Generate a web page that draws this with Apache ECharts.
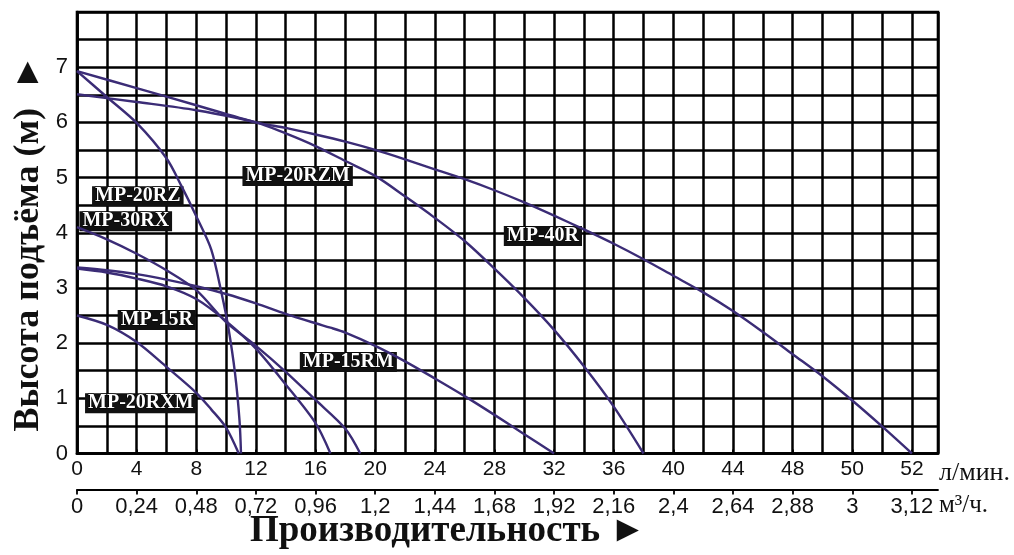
<!DOCTYPE html>
<html><head><meta charset="utf-8">
<script src="https://cdn.jsdelivr.net/npm/echarts@6/dist/echarts.min.js"></script>
<style>html,body{margin:0;padding:0;background:#fff}#c{width:1014px;height:555px}</style>
</head><body><div id="c"></div>
<script>
// Flow positions are in the grid's own linear unit (2 per cell); tick texts give the printed values.
const lpmTickValues = [0,4,8,12,16,20,24,28,32,36,40,44,48,52,56];
const lpmTickText   = ['0','4','8','12','16','20','24','28','32','36','40','44','48','50','52'];
const m3hTickText   = ['0','0,24','0,48','0,72','0,96','1,2','1,44','1,68','1,92','2,16','2,4','2,64','2,88','3','3,12'];
const headTickValues = [0,1,2,3,4,5,6,7];

const mp20rzFlow  = [0,2,4,6,7,8,9,9.7,10.14,10.6,10.9,11];
const mp20rzHead  = [6.93,6.46,5.99,5.35,4.85,4.3,3.7,2.9,2.3,1.45,0.6,0];

const mp20rzmFlow = [0,4,8,12,14,16,18,20,22,24,26,28,30,32,34,36,38];
const mp20rzmHead = [6.51,6.37,6.22,6.0,5.8,5.57,5.3,5.03,4.66,4.27,3.85,3.35,2.82,2.24,1.58,0.85,0];

const mp40rFlow = [0,4,8,12,14,16,18,20,22,24,26,28,30,32,34,36,38,40,42,44,46,48,50,52,54,56];
const mp40rHead = [6.93,6.62,6.31,6.0,5.9,5.78,5.65,5.5,5.33,5.15,4.97,4.77,4.55,4.31,4.06,3.8,3.52,3.22,2.92,2.58,2.2,1.8,1.4,0.96,0.49,0];

const mp30rxFlow = [0,2,4,6,8,10,12,14,16,18,19];
const mp30rxHead = [4.1,3.88,3.62,3.32,2.96,2.38,1.95,1.48,0.97,0.45,0];

const mp15rFlow = [0,2,4,6,8,10,12,14,16,17];
const mp15rHead = [3.35,3.28,3.17,3.03,2.8,2.4,1.9,1.25,0.55,0];

const mp15rmFlow = [0,2,4,6,8,10,12,14,16,17,18,20,22,24,26,28,30,32];
const mp15rmHead = [3.37,3.32,3.25,3.15,3.03,2.89,2.72,2.53,2.36,2.28,2.19,1.95,1.67,1.36,1.04,0.7,0.35,0];

const mp20rxmFlow = [0,2,4,6,8,9,10,10.85];
const mp20rxmHead = [2.5,2.33,2.02,1.57,1.1,0.8,0.47,0];

const seriesNames = ['MP-20RZ','MP-20RZM','MP-40R','MP-30RX','MP-15R','MP-15RM','MP-20RXM'];
const labelFlow = [4.08,14.8,31.25,3.27,5.35,18.2,4.28];
const labelHead = [4.66,5.03,3.94,4.21,2.42,1.66,0.91];

const curves = [
  [mp20rzFlow, mp20rzHead],[mp20rzmFlow, mp20rzmHead],[mp40rFlow, mp40rHead],
  [mp30rxFlow, mp30rxHead],[mp15rFlow, mp15rHead],[mp15rmFlow, mp15rmHead],[mp20rxmFlow, mp20rxmHead]
];
const zip = (a,b) => a.map((v,i)=>[v,b[i]]);
const X_MAX = 57.75;
const lineColor = '#3b2c76';
const serif = '"Liberation Serif","Times New Roman",serif';
const sans = '"Liberation Sans",Arial,sans-serif';

const chart = echarts.init(document.getElementById('c'), null, {renderer:'canvas'});
const series = curves.map((c,i)=>({
  type:'line', name:seriesNames[i], data:zip(c[0],c[1]), showSymbol:false, symbol:'none',
  smooth:0.3, lineStyle:{color:lineColor,width:2.4}, z:5,
  markPoint:{symbol:'rect', symbolSize:1, itemStyle:{color:'transparent'}, silent:true,
    data:[{coord:[labelFlow[i],labelHead[i]], value:seriesNames[i]}],
    label:{show:true, position:'inside', formatter:seriesNames[i], color:'#fff', fontFamily:serif, fontWeight:'bold',
      fontSize:20, lineHeight:20, backgroundColor:'#111', padding:[0,3,0,3],
      textBorderColor:'#000', textBorderWidth:1}
  }
}));

chart.setOption({
  animation:false,
  backgroundColor:'#fff',
  grid:{left:77, right:76, top:12, bottom:101.5, show:true, borderColor:'#000', borderWidth:2.6},
  xAxis:[
    {type:'value', min:0, max:X_MAX, interval:2, position:'bottom',
     axisLine:{show:true, onZero:false, lineStyle:{color:'#000',width:2.6}},
     axisTick:{show:false},
     splitLine:{show:true, lineStyle:{color:'#000',width:2.5}},
     axisLabel:{customValues:lpmTickValues, formatter:v=>lpmTickText[lpmTickValues.indexOf(v)]||'',
       color:'#111', fontFamily:sans, fontSize:21, margin:5, showMaxLabel:true}},
    {type:'value', min:0, max:X_MAX, position:'bottom', offset:36, gridIndex:0,
     axisLine:{show:true, onZero:false, lineStyle:{color:'#000',width:1.8}},
     axisTick:{show:true, customValues:lpmTickValues, length:5, lineStyle:{color:'#000',width:1.8}},
     splitLine:{show:false},
     axisLabel:{customValues:lpmTickValues, formatter:v=>m3hTickText[lpmTickValues.indexOf(v)]||'',
       color:'#111', fontFamily:sans, fontSize:22, margin:6}},
    {type:'value', min:0, max:X_MAX, position:'bottom', offset:36, gridIndex:0,
     axisLine:{show:false},
     axisTick:{show:true, inside:true, customValues:lpmTickValues, length:4, lineStyle:{color:'#000',width:1.8}},
     splitLine:{show:false}, axisLabel:{show:false}}
  ],
  yAxis:{type:'value', min:0, max:8, interval:0.5,
    axisLine:{show:true, lineStyle:{color:'#000',width:2.6}}, axisTick:{show:false},
    splitLine:{show:true, lineStyle:{color:'#000',width:2.5}},
    axisLabel:{customValues:headTickValues, formatter:v=>String(v), color:'#111', fontFamily:sans, fontSize:22, margin:9}},
  series:series,
  graphic:[
    {type:'text', x:29, y:243, rotation:Math.PI/2, style:{text:'Высота подъёма (м)  ►', font:'bold 36px '+serif, fill:'#111', textAlign:'center', textVerticalAlign:'middle'}},
    {type:'text', x:448, y:531, style:{text:'Производительность ►', font:'bold 37px '+serif, fill:'#111', textAlign:'center', textVerticalAlign:'middle'}},
    {type:'text', x:939, y:473, style:{text:'л/мин.', font:'26px '+serif, fill:'#111', textAlign:'left', textVerticalAlign:'middle'}},
    {type:'text', x:939, y:505, style:{text:'м³/ч.', font:'25px '+serif, fill:'#111', textAlign:'left', textVerticalAlign:'middle'}}
  ]
});
</script></body></html>
